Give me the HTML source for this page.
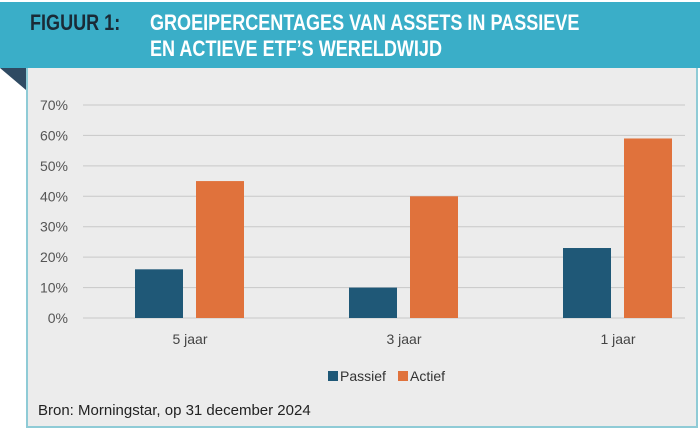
<!DOCTYPE html>
<html><head><meta charset="utf-8"><style>
body{margin:0;width:700px;height:431px;background:#fff;overflow:hidden;font-family:"Liberation Sans",sans-serif}
#hdr{position:absolute;left:0;top:2px;width:700px;height:66px;background:#3aaec8}
.t{position:absolute;font-weight:bold;font-size:22px;white-space:nowrap;transform-origin:0 0;transform:scaleX(0.82)}
#panel{position:absolute;left:26px;top:68px;width:668px;height:358px;background:#ececec;border:2px solid #8fcbd6;border-top:none}
</style></head><body>
<div id="hdr"></div>
<div class="t" style="left:30px;top:10px;color:#1a2a36">FIGUUR 1:</div>
<div class="t" style="left:150px;top:10px;color:#fff">GROEIPERCENTAGES VAN ASSETS IN PASSIEVE</div>
<div class="t" style="left:150px;top:36px;color:#fff">EN ACTIEVE ETF’S WERELDWIJD</div>
<div id="panel"></div>
<svg width="26" height="22" style="position:absolute;left:0;top:68px"><polygon points="0,0 26,0 26,22" fill="#2f4a62"/></svg>
<svg id="c" width="700" height="431" style="position:absolute;left:0;top:0" font-family="Liberation Sans, sans-serif"></svg>
<div style="position:absolute;left:38px;top:402px;font-size:15px;color:#222">Bron: Morningstar, op 31 december 2024</div>
<script>
const categories=["5 jaar","3 jaar","1 jaar"];
const passief=[16,10,23];
const actief=[45,40,59];
const ticks=[0,10,20,30,40,50,60,70];
const svg=document.getElementById('c');const NS='http://www.w3.org/2000/svg';
const y=v=>318-v*(213/70);
const band=214,x0=83;
const cx=i=>x0+band/2+i*band;
function mk(t,a){const e=document.createElementNS(NS,t);for(const k in a)e.setAttribute(k,a[k]);svg.appendChild(e);return e;}
ticks.forEach(v=>{
 const l=mk('line',{x1:83,x2:685,y1:y(v),y2:y(v),stroke:'#c8c8c8','stroke-width':1});
 
 
 const t=mk('text',{x:68,y:y(v)+5,'text-anchor':'end','font-size':14,fill:'#555'});t.textContent=v+'%';
 
 
});
categories.forEach((c,i)=>{
 const b1=mk('rect',{x:cx(i)-55,y:y(passief[i]),width:48,height:y(0)-y(passief[i]),fill:'#1f5877'});
 
 
 const b2=mk('rect',{x:cx(i)+6,y:y(actief[i]),width:48,height:y(0)-y(actief[i]),fill:'#e0723c'});
 
 
 const t=mk('text',{x:cx(i),y:344,'text-anchor':'middle','font-size':14,fill:'#444'});t.textContent=c;
 
 
});
const lg=[["Passief","#1f5877",328],["Actief","#e0723c",398]];
lg.forEach(([n,col,x])=>{
 const r=mk('rect',{x:x,y:371,width:10,height:10,fill:col});
 
 
 const t=mk('text',{x:x+12,y:381,'font-size':14,fill:'#333'});t.textContent=n;
 
 
});
</script>
</body></html>
